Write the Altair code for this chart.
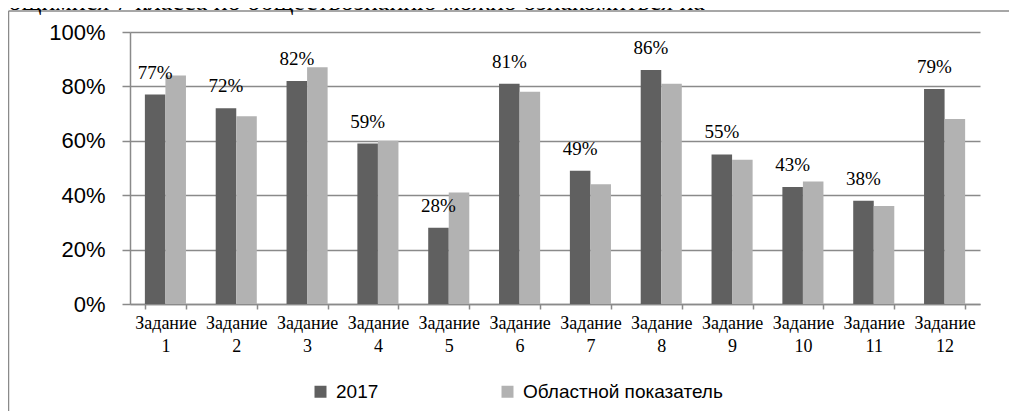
import altair as alt
import pandas as pd

tasks = ["Задание 1", "Задание 2", "Задание 3", "Задание 4", "Задание 5", "Задание 6",
         "Задание 7", "Задание 8", "Задание 9", "Задание 10", "Задание 11", "Задание 12"]
series_names = ["2017", "Областной показатель"]
values_2017 = [0.77, 0.72, 0.82, 0.59, 0.28, 0.81, 0.49, 0.86, 0.55, 0.43, 0.38, 0.79]
values_region = [0.84, 0.69, 0.87, 0.60, 0.41, 0.78, 0.44, 0.81, 0.53, 0.45, 0.36, 0.68]
colors = ["#606060", "#b2b2b2"]
y_ticks = [0, 0.2, 0.4, 0.6, 0.8, 1.0]
top_text = "ющимися 7 класса по обществознанию можно ознакомиться на"

gray = "#8a8a8a"
serif = "'Liberation Serif', 'Times New Roman', serif"
sans = "'Liberation Sans', Arial, sans-serif"

rows = []
for t, a, b in zip(tasks, values_2017, values_region):
    rows.append({"task": t, "series": series_names[0], "value": a})
    rows.append({"task": t, "series": series_names[1], "value": b})
df = pd.DataFrame(rows)

x_enc = alt.X(
    "task:N", sort=tasks,
    scale=alt.Scale(paddingInner=0.42, paddingOuter=0.21),
    axis=alt.Axis(
        title=None, labelAngle=0, labelExpr="split(datum.label, ' ')",
        labelFont=serif, labelFontSize=18, labelColor="#000000",
        labelLineHeight=23, tickBand="extent", tickSize=5, tickColor=gray,
        tickWidth=1.5, domainColor=gray, domainWidth=1.5, labelPadding=5,
        grid=False,
    ),
)
xoff_enc = alt.XOffset("series:N", sort=series_names,
                       scale=alt.Scale(domain=series_names, paddingInner=0.0))
y_enc = alt.Y(
    "value:Q",
    scale=alt.Scale(domain=[0, 1], nice=False),
    axis=alt.Axis(
        values=y_ticks, format=".0%", title=None,
        labelFont=sans, labelFontSize=22, labelColor="#000000",
        tickSize=8, tickColor=gray, tickWidth=1.5, labelPadding=17,
        gridColor=gray, gridWidth=1.5, domainColor=gray, domainWidth=1.5,
    ),
)

bars = alt.Chart(df).mark_bar().encode(
    x=x_enc,
    xOffset=xoff_enc,
    y=y_enc,
    color=alt.Color(
        "series:N", sort=series_names,
        scale=alt.Scale(domain=series_names, range=colors),
        legend=alt.Legend(
            title=None, orient="none", legendX=181, legendY=350,
            direction="horizontal", symbolType="square", symbolSize=144,
            symbolStrokeWidth=0, labelFont=sans, labelFontSize=19,
            labelColor="#000000", labelOffset=6, columnPadding=119, padding=0,
            labelLimit=0,
        ),
    ),
)

labels = alt.Chart(df).transform_filter(
    alt.datum.series == series_names[0]
).mark_text(
    font=serif, fontSize=19, baseline="alphabetic", dy=-16, color="#000000"
).encode(
    x=alt.X("task:N", sort=tasks),
    xOffset=xoff_enc,
    y=alt.Y("value:Q"),
    text=alt.Text("value:Q", format=".0%"),
)

one = alt.Data(values=[{"t": top_text}])
frame_left = alt.Chart(one).mark_rule(color=gray, strokeWidth=1.5).encode(
    x=alt.value(-121.5), y=alt.value(-21), y2=alt.value(400)
)
frame_top = alt.Chart(one).mark_rule(color=gray, strokeWidth=1.5).encode(
    x=alt.value(-121.5), x2=alt.value(900), y=alt.value(-21)
)
head = alt.Chart(one).mark_text(
    font=serif, fontSize=26, align="left", baseline="alphabetic", color="#000000"
).encode(x=alt.value(-128), y=alt.value(-22), text="t:N")

chart = alt.layer(frame_left, frame_top, head, bars, labels).properties(
    width=850, height=272,
    autosize=alt.AutoSizeParams(type="none"),
    padding={"left": 122, "top": 24, "right": 29, "bottom": 107},
).configure_view(stroke=None)

chart.save("out.html", embed_options={"renderer": "svg", "actions": False})
